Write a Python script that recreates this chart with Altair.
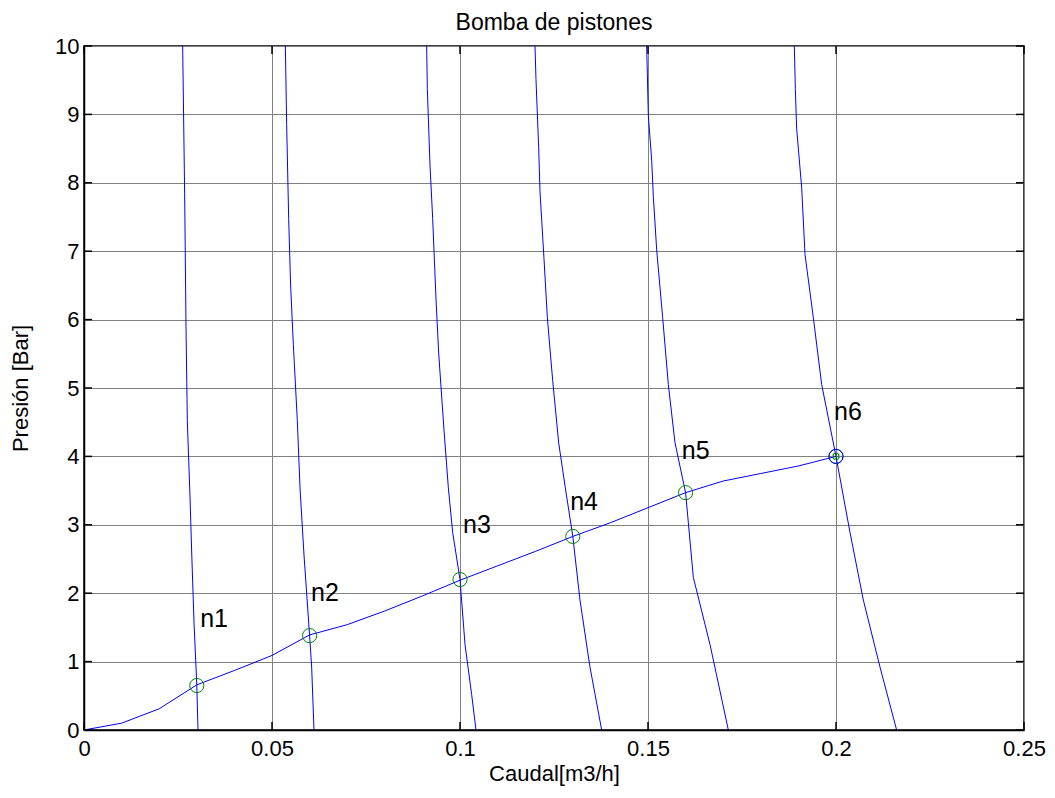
import altair as alt
import pandas as pd

# Pump characteristic curves: flow [m3/h] against pressure [Bar], one list per speed
CURVE_1_Q = [0.02624, 0.02677, 0.02713, 0.02748, 0.02819, 0.02872, 0.02926, 0.0300, 0.03032]
CURVE_1_P = [10, 7.84, 5.9, 4.52, 3.41, 2.46, 1.57, 0.65, 0]

CURVE_2_Q = [0.05355, 0.05390, 0.05443, 0.05496, 0.05567, 0.05674, 0.05745, 0.05851, 0.0600, 0.06055, 0.06117]
CURVE_2_P = [10, 8.85, 7.48, 6.49, 5.64, 4.52, 3.54, 2.56, 1.38, 0.92, 0]

CURVE_3_Q = [0.09113, 0.09131, 0.09202, 0.09273, 0.09362, 0.09433, 0.09574, 0.09690, 0.09805, 0.1000, 0.10133, 0.10310, 0.10426]
CURVE_3_P = [10, 9.38, 8.26, 7.48, 6.30, 5.51, 4.39, 3.54, 2.89, 2.2, 1.25, 0.52, 0]

CURVE_4_Q = [0.11995, 0.12021, 0.12092, 0.12128, 0.12234, 0.12323, 0.12465, 0.12624, 0.12801, 0.1300, 0.13191, 0.13457, 0.13768]
CURVE_4_P = [10, 9.51, 8.52, 7.87, 6.89, 6.03, 5.11, 4.20, 3.54, 2.83, 1.90, 0.92, 0]

CURVE_5_Q = [0.14965, 0.15009, 0.15098, 0.15142, 0.15231, 0.15390, 0.15541, 0.15718, 0.1600, 0.16206, 0.16649, 0.17137]
CURVE_5_P = [10, 8.98, 8.33, 7.80, 7.02, 6.03, 5.05, 4.20, 3.47, 2.23, 1.25, 0]

CURVE_6_Q = [0.18892, 0.18918, 0.18954, 0.19087, 0.19176, 0.19397, 0.19619, 0.2000, 0.20372, 0.20727, 0.21170, 0.21613]
CURVE_6_P = [10, 9.38, 8.79, 7.93, 6.95, 6.03, 5.05, 4.0, 2.89, 1.90, 0.92, 0]

# System (installation) curve
SYSTEM_Q = [0, 0.01, 0.02, 0.03, 0.04, 0.05, 0.06, 0.07, 0.08, 0.09, 0.10,
            0.11, 0.12, 0.13, 0.14, 0.15, 0.16, 0.17, 0.18, 0.19, 0.20]
SYSTEM_P = [0, 0.10, 0.31, 0.66, 0.87, 1.09, 1.39, 1.54, 1.74, 1.96, 2.19,
            2.40, 2.61, 2.83, 3.03, 3.25, 3.47, 3.64, 3.75, 3.86, 4.00]

# Operating points and their labels
POINT_NAMES = ["n1", "n2", "n3", "n4", "n5", "n6"]
POINT_Q = [0.03, 0.06, 0.10, 0.13, 0.16, 0.20]
POINT_P = [0.65, 1.38, 2.20, 2.83, 3.47, 4.00]
LABEL_Q = [0.0309, 0.0604, 0.1008, 0.1293, 0.1590, 0.1995]
LABEL_P = [1.62, 2.01, 3.00, 3.34, 4.08, 4.65]

X_TICKS = [0, 0.05, 0.10, 0.15, 0.20, 0.25]
Y_TICKS = list(range(0, 11))

W, H = 940, 684
FONT = "Liberation Sans"
BLUE = "#0000ff"
GREEN = "#008000"
GRID = "#808080"
FS = 22

rows = []
curves = [(CURVE_1_Q, CURVE_1_P), (CURVE_2_Q, CURVE_2_P), (CURVE_3_Q, CURVE_3_P),
          (CURVE_4_Q, CURVE_4_P), (CURVE_5_Q, CURVE_5_P), (CURVE_6_Q, CURVE_6_P)]
for k, (qs, ps) in enumerate(curves):
    for i, (q, p) in enumerate(zip(qs, ps)):
        rows.append({"curve": f"c{k + 1}", "i": i, "q": q, "p": p})
pump_df = pd.DataFrame(rows)
system_df = pd.DataFrame({"i": range(len(SYSTEM_Q)), "q": SYSTEM_Q, "p": SYSTEM_P})
points_df = pd.DataFrame({"name": POINT_NAMES, "q": POINT_Q, "p": POINT_P})
labels_df = pd.DataFrame({"name": POINT_NAMES, "q": LABEL_Q, "p": LABEL_P})
xt_df = pd.DataFrame({"v": X_TICKS})
yt_df = pd.DataFrame({"v": Y_TICKS})

x_scale = alt.Scale(domain=[0, 0.25], nice=False, zero=False)
y_scale = alt.Scale(domain=[0, 10], nice=False, zero=False)

axis_style = dict(
    grid=True, gridColor=GRID, gridWidth=1, gridOpacity=1, ticks=False,
    domainColor="black", domainWidth=1.5, labelFlush=False, labelOverlap=False,
    labelFont=FONT, labelFontSize=FS, labelColor="black",
    titleFont=FONT, titleFontSize=FS, titleFontWeight="normal", titleColor="black",
)
x_axis = alt.Axis(values=X_TICKS, format=".2~f", title="Caudal[m3/h]",
                  labelPadding=8, titlePadding=4, **axis_style)
y_axis = alt.Axis(values=Y_TICKS, format="d", title="Presión [Bar]",
                  labelPadding=5, titlePadding=22, **axis_style)

X = alt.X("q:Q", scale=x_scale, axis=x_axis)
Y = alt.Y("p:Q", scale=y_scale, axis=y_axis)
Xn = alt.X("q:Q", scale=x_scale)
Yn = alt.Y("p:Q", scale=y_scale)

pumps = alt.Chart(pump_df).mark_line(color=BLUE, strokeWidth=1).encode(
    x=X, y=Y, detail="curve:N", order="i:Q")

system = alt.Chart(system_df).mark_line(color=BLUE, strokeWidth=1).encode(
    x=Xn, y=Yn, order="i:Q")

circles = alt.Chart(points_df).mark_point(
    shape="circle", filled=False, color=GREEN, size=200, strokeWidth=1, opacity=1).encode(
    x=Xn, y=Yn)

last_df = points_df.tail(1)
last_ring = alt.Chart(last_df).mark_point(
    shape="circle", filled=False, color=BLUE, size=200, strokeWidth=1, opacity=1).encode(
    x=Xn, y=Yn)
last_cross = alt.Chart(last_df).mark_point(
    shape="cross", filled=False, color=GREEN, size=40, strokeWidth=1, angle=45, opacity=1).encode(
    x=Xn, y=Yn)

labels = alt.Chart(labels_df).mark_text(
    align="left", baseline="middle", fontSize=25, font=FONT, color="black").encode(
    x=Xn, y=Yn, text="name:N")

# Inward tick marks on all four sides of the frame
tick_len = 8
xt_bottom = alt.Chart(xt_df).mark_rule(color="black", strokeWidth=1.5).encode(
    x=alt.X("v:Q", scale=x_scale), y=alt.value(H), y2=alt.value(H - tick_len))
xt_top = alt.Chart(xt_df).mark_rule(color="black", strokeWidth=1.5).encode(
    x=alt.X("v:Q", scale=x_scale), y=alt.value(0), y2=alt.value(tick_len))
yt_left = alt.Chart(yt_df).mark_rule(color="black", strokeWidth=1.5).encode(
    y=alt.Y("v:Q", scale=y_scale), x=alt.value(0), x2=alt.value(tick_len))
yt_right = alt.Chart(yt_df).mark_rule(color="black", strokeWidth=1.5).encode(
    y=alt.Y("v:Q", scale=y_scale), x=alt.value(W), x2=alt.value(W - tick_len))

chart = alt.layer(
    pumps, system, circles, last_ring, last_cross, labels,
    xt_bottom, xt_top, yt_left, yt_right
).properties(
    width=W, height=H,
    background="white",
    title=alt.TitleParams("Bomba de pistones", font=FONT, fontSize=23,
                          fontWeight="normal", color="black", offset=0),
    autosize=alt.AutoSizeParams(type="none"),
    padding={"left": 84, "top": 46, "right": 31, "bottom": 68},
).configure_view(
    stroke="black", strokeWidth=1.5
)

chart.save("out.html", embed_options={"renderer": "svg", "actions": False})
